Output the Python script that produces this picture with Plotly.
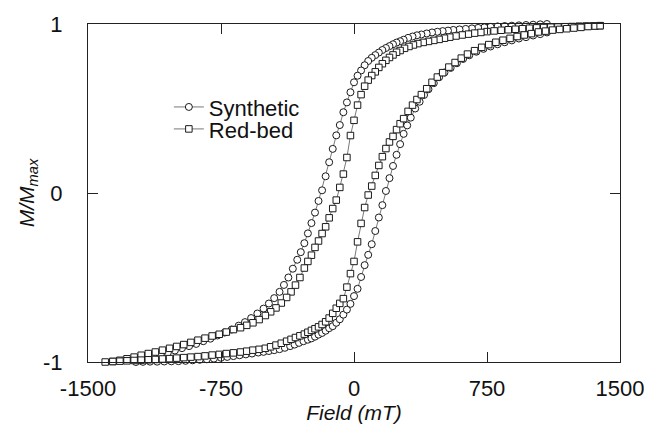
import plotly.graph_objects as go

# ---- Synthetic sample: descending (upper) branch then ascending (lower) branch ----
syn_up_field = [1088, 1050, 1010, 970, 930, 890, 850, 810, 770,
                735, 700, 665, 630, 595, 560,
                530, 500, 470, 440, 410, 380,
                355, 330, 305, 280,
                260, 240, 220, 200, 180, 160, 140, 120, 100, 80, 60, 40, 20, 0,
                -20, -40, -60, -80, -100, -120, -140, -160, -180, -200, -220, -240,
                -260, -280, -300,
                -320, -345, -370, -395, -420, -450, -480, -510,
                -545, -580, -615, -650,
                -690, -730, -770, -810, -850, -890, -930, -970, -1010, -1050, -1090, -1130, -1170,
                -1200, -1230]
syn_up_M = [1.000, 0.998, 0.996, 0.994, 0.992, 0.990, 0.988, 0.986, 0.983,
            0.980, 0.977, 0.974, 0.971, 0.968, 0.965,
            0.961, 0.958, 0.954, 0.950, 0.944, 0.938,
            0.933, 0.926, 0.918, 0.907,
            0.898, 0.890, 0.880, 0.869, 0.858, 0.846, 0.831, 0.816, 0.800, 0.781, 0.756, 0.725, 0.694, 0.655,
            0.596, 0.536, 0.478, 0.402, 0.341, 0.261, 0.182, 0.099, 0.016, -0.047, -0.116, -0.178,
            -0.239, -0.297, -0.350,
            -0.395, -0.448, -0.500, -0.544, -0.585, -0.622, -0.654, -0.684,
            -0.713, -0.740, -0.764, -0.785,
            -0.808, -0.826, -0.843, -0.862, -0.877, -0.893, -0.906, -0.918, -0.932, -0.945, -0.958, -0.970, -0.984,
            -0.993, -1.000]

syn_lo_field = [-1190, -1150, -1110, -1070, -1030, -990, -950, -910, -870, -830, -790, -750,
                -715, -680, -645, -610, -575, -540,
                -510, -480, -450, -420, -390, -360,
                -335, -310, -285,
                -260, -240, -220, -200, -180, -160, -140, -120, -100, -80, -60, -40, -20, 0,
                20, 40, 60, 80, 100, 120, 140, 160, 180, 200, 220, 240, 260, 280, 300,
                320, 345, 370, 395, 420, 450, 480, 510,
                545, 580, 615, 650,
                690, 730, 770, 810, 850, 890, 930, 970, 1010, 1050, 1088]
syn_lo_M = [-0.999, -0.998, -0.998, -0.997, -0.996, -0.995, -0.993, -0.990, -0.987, -0.984, -0.980, -0.975,
            -0.970, -0.965, -0.960, -0.955, -0.950, -0.944,
            -0.940, -0.935, -0.930, -0.924, -0.916, -0.906,
            -0.897, -0.887, -0.877,
            -0.868, -0.860, -0.850, -0.838, -0.828, -0.815, -0.800, -0.788, -0.768, -0.747, -0.720, -0.690, -0.656, -0.610,
            -0.567, -0.497, -0.427, -0.366, -0.303, -0.225, -0.145, -0.072, 0.012, 0.088, 0.160, 0.226, 0.289, 0.350, 0.400,
            0.446, 0.500, 0.540, 0.580, 0.614, 0.650, 0.685, 0.713,
            0.740, 0.768, 0.793, 0.815,
            0.836, 0.853, 0.867, 0.880, 0.892, 0.903, 0.914, 0.922, 0.932, 0.940, 0.950]

# ---- Red-bed sample ----
rb_up_field = [1388, 1350, 1310, 1270, 1230, 1190, 1150, 1110, 1070, 1030, 990, 950, 910, 870, 830, 790, 750,
               715, 680, 645, 610, 575, 540, 510,
               480, 450, 420, 390, 360,
               335, 310, 285,
               260, 240, 220, 200, 180, 160, 140, 120, 100, 80, 60, 40, 20, 0,
               -20, -40, -60, -80, -100, -120, -140, -160, -180, -200, -220, -240, -260,
               -280,
               -305, -330, -355, -380,
               -410, -440, -470, -500,
               -535, -570, -605, -640,
               -680, -720, -760, -800, -840, -880, -920, -960, -1000, -1040, -1080, -1120, -1160, -1200, -1240, -1280, -1320, -1360,
               -1403]
rb_up_M = [0.990, 0.989, 0.988, 0.987, 0.985, 0.984, 0.982, 0.981, 0.979, 0.977, 0.975, 0.972, 0.969, 0.966, 0.963, 0.959, 0.955,
           0.950, 0.946, 0.940, 0.935, 0.929, 0.922, 0.916,
           0.909, 0.903, 0.897, 0.891, 0.884,
           0.876, 0.867, 0.856,
           0.843, 0.833, 0.817, 0.802, 0.785, 0.765, 0.743, 0.717, 0.695, 0.668, 0.632, 0.582, 0.520, 0.430,
           0.340, 0.210, 0.112, 0.033, -0.042, -0.092, -0.147, -0.200, -0.240, -0.284, -0.322, -0.368, -0.405,
           -0.444,
           -0.500, -0.545, -0.585, -0.618,
           -0.651, -0.680, -0.703, -0.725,
           -0.749, -0.768, -0.783, -0.797,
           -0.808, -0.823, -0.836, -0.846, -0.859, -0.871, -0.884, -0.897, -0.908, -0.919, -0.930, -0.941, -0.950, -0.960, -0.971, -0.981, -0.990, -0.997,
           -1.000]

rb_lo_field = [-1360, -1320, -1280, -1240, -1200, -1160, -1120, -1080, -1040, -1000, -960, -920, -880, -840, -800, -760, -720, -680, -640,
               -605, -570, -535, -500,
               -470, -440, -410, -380,
               -355, -330, -305, -280,
               -260, -240, -220, -200, -180, -160, -140, -120, -100, -80, -60, -40, -20, 0,
               20, 40, 60, 80, 100, 120, 140, 160, 180, 200, 220, 240, 260,
               280,
               305, 330, 355, 380,
               410, 440, 470, 500,
               535, 570, 605, 640,
               680, 720, 760, 800, 840, 880, 920, 960, 1000, 1040, 1080, 1120, 1160, 1200, 1240, 1280, 1320, 1360,
               1388]
rb_lo_M = [-0.997, -0.995, -0.993, -0.991, -0.989, -0.987, -0.985, -0.982, -0.980, -0.977, -0.974, -0.971, -0.968, -0.964, -0.959, -0.955, -0.950, -0.946, -0.941,
           -0.936, -0.930, -0.925, -0.919,
           -0.910, -0.900, -0.889, -0.877,
           -0.866, -0.855, -0.845, -0.835,
           -0.824, -0.813, -0.803, -0.792, -0.778, -0.762, -0.740, -0.712, -0.682, -0.653, -0.625, -0.557, -0.477, -0.405,
           -0.289, -0.180, -0.086, -0.012, 0.041, 0.104, 0.163, 0.215, 0.263, 0.302, 0.335, 0.375, 0.410,
           0.440,
           0.483, 0.520, 0.553, 0.582,
           0.617, 0.655, 0.686, 0.712,
           0.745, 0.772, 0.798, 0.822,
           0.842, 0.862, 0.878, 0.892, 0.904, 0.915, 0.926, 0.935, 0.943, 0.953, 0.958, 0.964, 0.968, 0.972, 0.976, 0.980, 0.985, 0.988,
           0.990]

x_ticks = [-1500, -750, 0, 750, 1500]
y_ticks = [-1, 0, 1]

assert len(syn_up_field) == len(syn_up_M)
assert len(syn_lo_field) == len(syn_lo_M)
assert len(rb_up_field) == len(rb_up_M)
assert len(rb_lo_field) == len(rb_lo_M)

FONT = "Liberation Sans, Arial, sans-serif"
LINE = "#555555"
EDGE = "#1a1a1a"

fig = go.Figure()
fig.add_trace(go.Scatter(
    x=syn_up_field + syn_lo_field, y=syn_up_M + syn_lo_M,
    mode="lines+markers", name="Synthetic", legend="legend",
    line=dict(color=LINE, width=0.8),
    marker=dict(symbol="circle", size=7, color="white", line=dict(color=EDGE, width=1)),
    cliponaxis=False,
))
fig.add_trace(go.Scatter(
    x=rb_up_field + rb_lo_field, y=rb_up_M + rb_lo_M,
    mode="lines+markers", name="Red-bed", legend="legend2",
    line=dict(color=LINE, width=0.8),
    marker=dict(symbol="square", size=6.5, color="white", line=dict(color=EDGE, width=1)),
    cliponaxis=False,
))

axis_common = dict(
    showline=True, linecolor="#222222", linewidth=1.3, mirror="ticks",
    ticks="inside", ticklen=10, tickwidth=1, tickcolor="#222222",
    showgrid=False, zeroline=False, automargin=False,
    tickfont=dict(family=FONT, size=22, color="#111111"),
)

fig.update_layout(
    width=645, height=434,
    margin=dict(l=88, r=25, t=24, b=72, autoexpand=False),
    paper_bgcolor="white", plot_bgcolor="white",
    font=dict(family=FONT, color="#111111"),
    xaxis=dict(range=[-1500, 1500], tickvals=x_ticks, ticktext=[str(v) for v in x_ticks],
               ticklabelstandoff=6,
               title=dict(text="<i>Field (mT)</i>", font=dict(family=FONT, size=21), standoff=4),
               **axis_common),
    yaxis=dict(range=[-1, 1], tickvals=y_ticks, ticktext=[str(v) for v in y_ticks],
               ticklabelstandoff=20,
               title=dict(text="<i>M/M<sub>max</sub></i>", font=dict(family=FONT, size=21), standoff=2),
               **axis_common),
    legend=dict(x=0.152, y=0.754, xanchor="left", yanchor="middle", bgcolor="rgba(0,0,0,0)",
                font=dict(family=FONT, size=22, color="#111111")),
    legend2=dict(x=0.152, y=0.689, xanchor="left", yanchor="middle", bgcolor="rgba(0,0,0,0)",
                 font=dict(family=FONT, size=22, color="#111111")),
    showlegend=True,
)

# remove the default page margin so the figure fills the 645x434 window exactly
fig.write_html(
    "out.html",
    config={"displayModeBar": False},
    post_script="document.body.style.margin='0';document.body.style.overflow='hidden';",
)
